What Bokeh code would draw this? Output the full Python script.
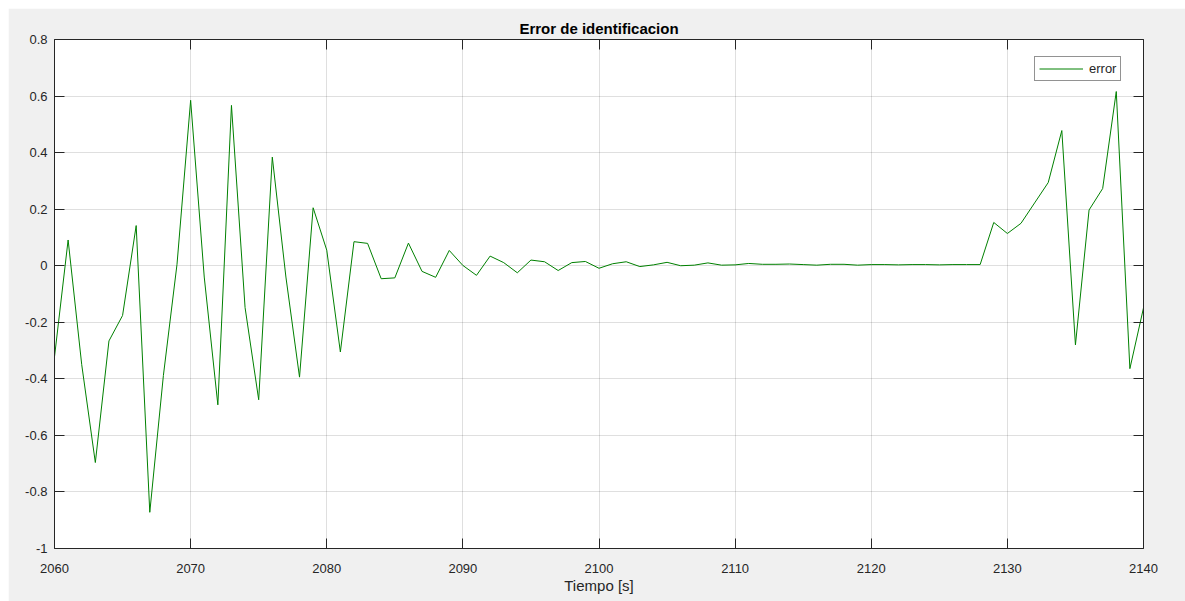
from bokeh.plotting import figure
from bokeh.models import LinearAxis, Range1d, FixedTicker, Legend, LegendItem
from bokeh.embed import file_html
from bokeh.resources import INLINE

# ---- data ----
tiempo = list(range(2060, 2141))
error = [
    -0.322, 0.091, -0.350, -0.696, -0.266, -0.176, 0.142, -0.872, -0.388, 0.005,   # 2060-2069
    0.585, -0.040, -0.492, 0.567, -0.148, -0.474, 0.384, -0.040, -0.394, 0.205,    # 2070-2079
    0.055, -0.305, 0.085, 0.079, -0.046, -0.043, 0.080, -0.020, -0.041, 0.054,     # 2080-2089
    0.001, -0.034, 0.034, 0.011, -0.025, 0.020, 0.014, -0.017, 0.011, 0.015,       # 2090-2099
    -0.009, 0.007, 0.014, -0.003, 0.003, 0.012, 0.000, 0.002, 0.010, 0.002,        # 2100-2109
    0.003, 0.008, 0.005, 0.005, 0.006, 0.004, 0.002, 0.005, 0.005, 0.002,          # 2110-2119
    0.004, 0.004, 0.003, 0.004, 0.004, 0.003, 0.004, 0.004, 0.004, 0.153,          # 2120-2129
    0.114, 0.150, 0.222, 0.294, 0.478, -0.280, 0.197, 0.273, 0.616, -0.364,        # 2130-2139
    -0.149,                                                                        # 2140
]
x_ticks = [2060, 2070, 2080, 2090, 2100, 2110, 2120, 2130, 2140]
x_labels = ["2060", "2070", "2080", "2090", "2100", "2110", "2120", "2130", "2140"]
y_ticks = [-1, -0.8, -0.6, -0.4, -0.2, 0, 0.2, 0.4, 0.6, 0.8]
y_labels = ["-1", "-0.8", "-0.6", "-0.4", "-0.2", "0", "0.2", "0.4", "0.6", "0.8"]
title_text = "Error de identificacion"
x_title = "Tiempo [s]"
series_name = "error"

FONT = "Liberation Sans"
AX = "#262626"

p = figure(width=1177, height=593, output_backend="svg", toolbar_location=None,
           x_range=Range1d(2060, 2140), y_range=Range1d(-1, 0.8),
           min_border_left=46, min_border_right=42, min_border_top=31, min_border_bottom=53)
p.margin = (8, 0, 0, 8)
p.background_fill_color = "white"
p.border_fill_color = "#f0f0f0"
p.outline_line_color = None

p.title.text = title_text
p.title.align = "center"
p.title.text_font = FONT
p.title.text_font_size = "15px"
p.title.text_font_style = "bold"
p.title.text_color = "#000000"
p.title.standoff = 6


def style_axis(ax, show_labels):
    ax.axis_line_color = AX
    ax.axis_line_width = 1
    ax.major_tick_line_color = AX
    ax.major_tick_in = 10
    ax.major_tick_out = 0
    ax.minor_tick_line_color = None
    ax.major_label_text_font = FONT
    ax.major_label_text_color = AX
    if show_labels:
        ax.major_label_text_font_size = "13px"
    else:
        ax.major_label_text_font_size = "0px"
        ax.major_label_standoff = 0


xb = p.xaxis[0]
xb.ticker = FixedTicker(ticks=x_ticks)
xb.major_label_overrides = dict(zip(x_ticks, x_labels))
style_axis(xb, True)
xb.major_label_standoff = 15
xb.axis_label = x_title
xb.axis_label_text_font = FONT
xb.axis_label_text_font_size = "15px"
xb.axis_label_text_font_style = "normal"
xb.axis_label_text_color = AX
xb.axis_label_standoff = 1

yl = p.yaxis[0]
yl.ticker = FixedTicker(ticks=y_ticks)
yl.major_label_overrides = dict(zip(y_ticks, y_labels))
style_axis(yl, True)
yl.major_label_standoff = 7

xt = LinearAxis(ticker=FixedTicker(ticks=x_ticks))
xt.major_label_overrides = {t: "" for t in x_ticks}
style_axis(xt, False)
p.add_layout(xt, "above")

yr = LinearAxis(ticker=FixedTicker(ticks=y_ticks))
yr.major_label_overrides = {t: "" for t in y_ticks}
style_axis(yr, False)
p.add_layout(yr, "right")

p.xgrid.ticker = FixedTicker(ticks=x_ticks)
p.ygrid.ticker = FixedTicker(ticks=y_ticks)
p.grid.grid_line_color = AX
p.grid.grid_line_alpha = 0.15
p.grid.grid_line_width = 1

r = p.line(tiempo, error, line_color="#008000", line_width=1)

legend = Legend(items=[LegendItem(label=series_name, renderers=[r])],
                location=(980, 467))
legend.border_line_color = AX
legend.border_line_width = 1
legend.background_fill_color = "white"
legend.background_fill_alpha = 1
legend.label_text_font = FONT
legend.label_text_font_size = "13px"
legend.label_text_color = AX
legend.glyph_width = 44
legend.glyph_height = 9
legend.label_height = 9
legend.label_standoff = 6
legend.padding = 4
legend.margin = 0
p.add_layout(legend)

open("out.html", "w").write(file_html(p, INLINE))
